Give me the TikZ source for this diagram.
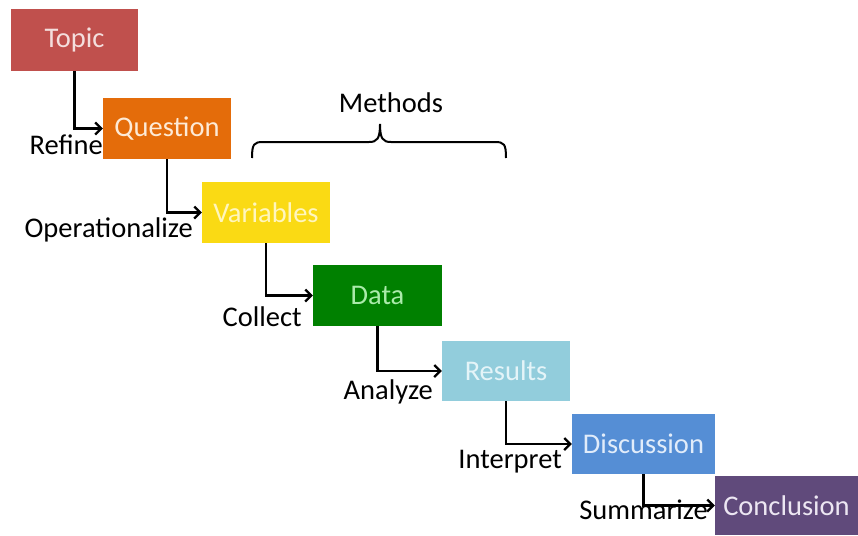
\documentclass[tikz,border=0pt]{standalone}
\usepackage{fontspec}
\setmainfont{Carlito}
\usetikzlibrary{arrows.meta}
\definecolor{topicF}{RGB}{192,80,77}\definecolor{topicT}{RGB}{244,222,221}
\definecolor{questF}{RGB}{228,108,10}\definecolor{questT}{RGB}{253,234,214}
\definecolor{varF}{RGB}{250,218,20}\definecolor{varT}{RGB}{255,246,190}
\definecolor{dataF}{RGB}{0,128,0}\definecolor{dataT}{RGB}{170,235,170}
\definecolor{resF}{RGB}{146,205,220}\definecolor{resT}{RGB}{228,244,248}
\definecolor{discF}{RGB}{85,142,213}\definecolor{discT}{RGB}{225,236,250}
\definecolor{concF}{RGB}{96,74,123}\definecolor{concT}{RGB}{236,230,242}
\tikzset{
  x=1pt,y=1pt,
  box/.style={rectangle, inner sep=0pt, minimum height=61pt, minimum width=128pt, font=\fontsize{28.5}{33}\selectfont},
  lab/.style={inner sep=0pt, anchor=base east, font=\fontsize{28.5}{33}\selectfont},
  conn/.style={line width=2.3pt, -{Straight Barb[length=6pt,width=12pt,line width=2.2pt]}},
}
\begin{document}
\begin{tikzpicture}
\useasboundingbox (0,0) rectangle (858,-535);
\node[box, fill=topicF, text=topicT, minimum width=127pt, minimum height=62pt] (topic) at (74.5,-40) {Topic};
\node[box, fill=questF, text=questT] (question) at (167,-128.5) {Question};
\node[box, fill=varF, text=varT] (variables) at (266,-212.5) {Variables};
\node[box, fill=dataF, text=dataT, minimum width=129pt] (data) at (377.5,-295.5) {Data};
\node[box, fill=resF, text=resT, minimum height=60pt] (results) at (506,-371) {Results};
\node[box, fill=discF, text=discT, minimum width=143pt, minimum height=60pt] (discussion) at (643.5,-444) {Discussion};
\node[box, fill=concF, text=concT, minimum width=143pt, minimum height=59pt] (conclusion) at (786.5,-505.5) {Conclusion};

\draw[conn] (topic.south) |- (question.west);
\draw[conn] (question.south) |- (variables.west);
\draw[conn] (variables.south) |- (data.west);
\draw[conn] (data.south) |- (results.west);
\draw[conn] (results.south) |- (discussion.west);
\draw[conn] (discussion.south) |- (conclusion.west);

\node[lab] (refine) at (103,-154) {Refine};
\node[lab] (oper) at (193,-237) {Operationalize};
\node[lab] (collect) at (302,-326) {Collect};
\node[lab] (analyze) at (433,-399) {Analyze};
\node[lab] (interpret) at (562,-468) {Interpret};
\node[lab] (summarize) at (708,-519) {Summarize};

\node[inner sep=0pt, anchor=base, font=\fontsize{28.5}{33}\selectfont] (methods) at (391,-112) {Methods};
\draw[line width=2pt] (252,-158) .. controls (252,-144) and (254,-142) .. (263,-142) -- (369,-142) .. controls (377,-142) and (380,-139) .. (380,-124) .. controls (380,-139) and (383,-142) .. (391,-142) -- (495,-142) .. controls (504,-142) and (506,-144) .. (506,-158);
\end{tikzpicture}
\end{document}
